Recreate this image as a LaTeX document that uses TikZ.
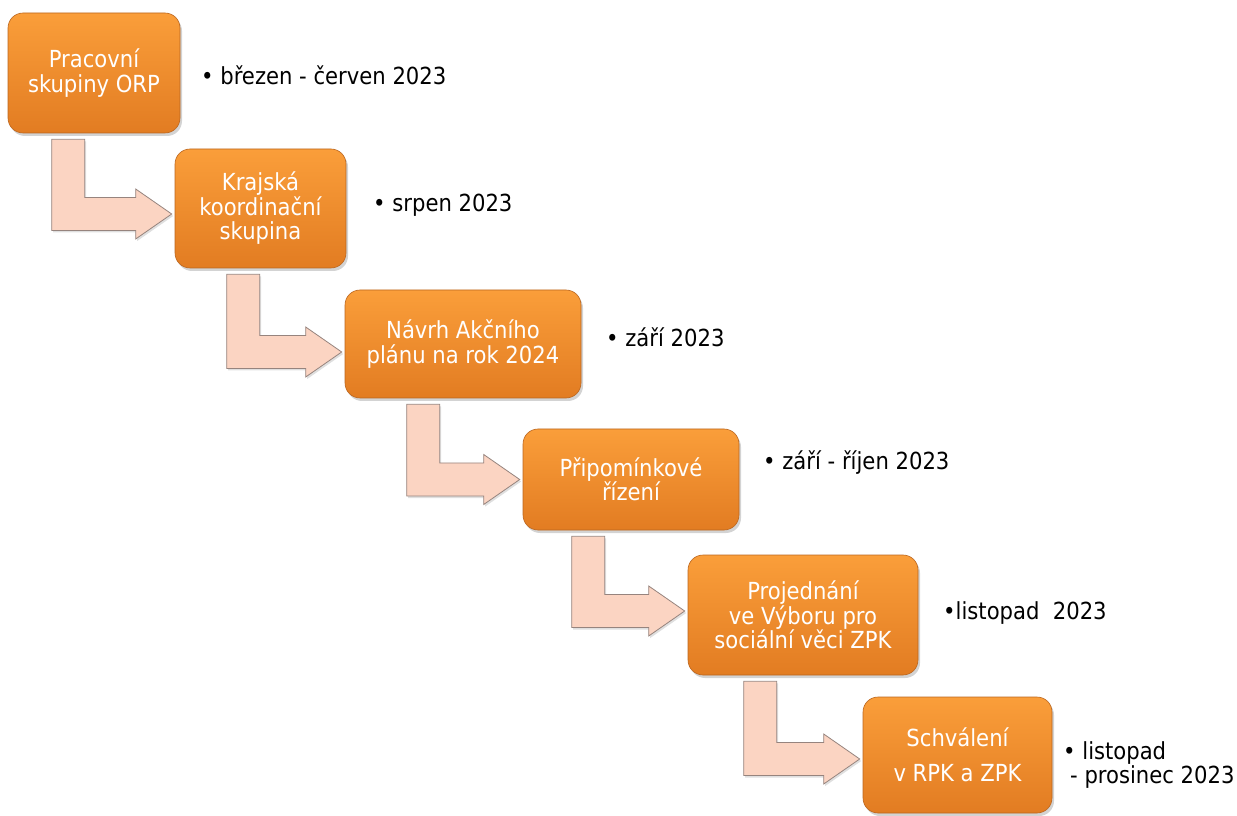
\documentclass[tikz,border=0pt]{standalone}
\usepackage{fontspec}
\setmainfont{DejaVu Sans Condensed}
\usetikzlibrary{calc, shadows}

\definecolor{boxtop}{RGB}{250,158,58}
\definecolor{boxbottom}{RGB}{226,124,34}
\definecolor{boxedge}{RGB}{186,102,32}
\definecolor{arrowfill}{RGB}{251,212,194}
\definecolor{arrowedge}{RGB}{150,132,126}

% bent arrow from one step box down and into the next one
% #1 from, #2 to, #3 stem offset from left edge, #4 tip offset from centre
\newcommand{\bendarrow}[4]{%
  \draw[step_arrow] let \p1=([xshift=#3]#1.south west), \p2=([yshift=#4]#2.west) in
    (\x1,\y1-6) -- (\x1+33,\y1-6) -- (\x1+33,\y2+16.5) -- (\x2-39,\y2+16.5)
    -- (\x2-39,\y2+25) -- (\x2-3,\y2) -- (\x2-39,\y2-25) -- (\x2-39,\y2-16.5)
    -- (\x1,\y2-16.5) -- cycle;}

\begin{document}
\begin{tikzpicture}[x=1pt, y=1pt,
        step_box/.style={draw=boxedge, line width=0.6pt, rounded corners=15pt,
            top color=boxtop, bottom color=boxbottom, text=white, align=center,
            inner sep=0pt, font=\fontsize{23.5}{24.5}\selectfont,
            drop shadow={shadow xshift=2pt, shadow yshift=-3pt, opacity=0.35}},
        date_label/.style={anchor=west, align=left, inner sep=0pt,
            font=\fontsize{23.5}{24.5}\selectfont},
        step_arrow/.style={draw=arrowedge, line width=0.8pt, fill=arrowfill,
            drop shadow={shadow xshift=1.5pt, shadow yshift=-2pt, opacity=0.25}}]

    \useasboundingbox (0,0) rectangle (1237,815);

    % steps of the plan
    \node[step_box, minimum width=172, minimum height=120] (orp) at (94,742) {Pracovní\\skupiny ORP};
    \node[step_box, minimum width=171, minimum height=119] (kks) at (260.5,606.5) {Krajská\\koordinační\\skupina};
    \node[step_box, minimum width=236, minimum height=108] (navrh) at (463,471) {Návrh Akčního\\plánu na rok 2024};
    \node[step_box, minimum width=216, minimum height=101] (pripom) at (631,335.5) {Připomínkové\\řízení};
    \node[step_box, minimum width=230, minimum height=120] (vybor) at (803,200) {Projednání\\ve Výboru pro\\sociální věci ZPK};
    \node[step_box, minimum width=189, minimum height=116] (schval) at (957.5,60) {Schválení\\[11pt]v RPK a ZPK};

    % arrows between the steps
    \bendarrow{orp}{kks}{44}{-5.5}
    \bendarrow{kks}{navrh}{52}{-8}
    \bendarrow{navrh}{pripom}{62}{0}
    \bendarrow{pripom}{vybor}{49}{4}
    \bendarrow{vybor}{schval}{56}{-4}

    % dates
    \node[date_label] (orp_date) at (201,740) {• březen - červen 2023};
    \node[date_label] (kks_date) at (373,610) {• srpen 2023};
    \node[date_label] (navrh_date) at (606,478) {• září 2023};
    \node[date_label] (pripom_date) at (763,352) {• září - říjen 2023};
    \node[date_label] (vybor_date) at (943,202) {•listopad\ \ 2023};
    \node[date_label] (schval_date) at (1063,50) {• listopad\\\hspace*{7pt}- prosinec 2023};

\end{tikzpicture}
\end{document}
